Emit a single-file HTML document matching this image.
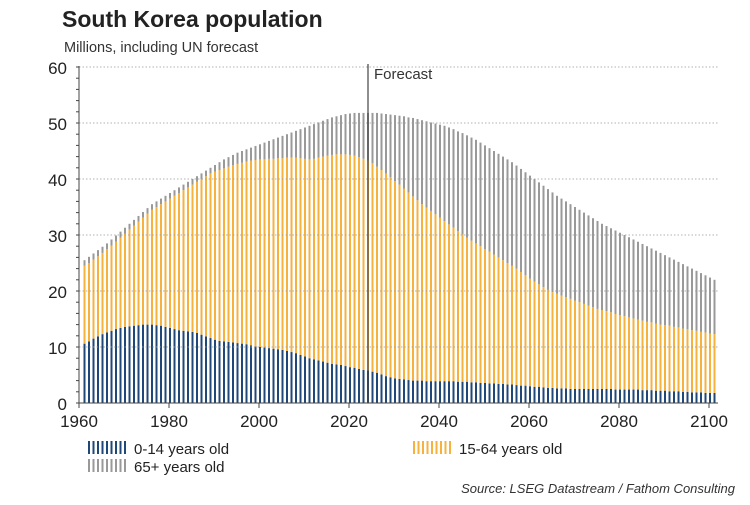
<!DOCTYPE html>
<html><head><meta charset="utf-8"><style>
body{margin:0;background:#fff;}
svg text{font-family:"Liberation Sans",Arial,sans-serif;}
</style></head><body>
<svg id="chart" width="750" height="500" viewBox="0 0 750 500" xmlns="http://www.w3.org/2000/svg">
<text x="62" y="27" font-size="23" font-weight="bold" fill="#222">South Korea population</text>
<text x="64" y="52" font-size="14.5" fill="#333">Millions, including UN forecast</text>
<g id="bars"></g><g id="grid"></g><g id="axes"></g>
<text x="735" y="493" font-size="13" font-style="italic" fill="#333" text-anchor="end">Source: LSEG Datastream / Fathom Consulting</text>
</svg>
<script>
const startYear = 1960;
const young = [10.6,11.0,11.5,11.9,12.3,12.6,12.9,13.2,13.4,13.6,13.7,13.8,13.9,14.0,14.0,14.0,13.9,13.8,13.6,13.4,13.2,13.0,12.9,12.8,12.7,12.5,12.2,11.9,11.6,11.3,11.1,11.0,10.9,10.8,10.7,10.6,10.5,10.3,10.1,10.0,9.9,9.8,9.7,9.6,9.5,9.3,9.1,8.9,8.6,8.3,8.0,7.8,7.6,7.4,7.2,7.0,6.9,6.8,6.6,6.4,6.3,6.1,5.9,5.8,5.6,5.4,5.1,4.8,4.6,4.4,4.3,4.2,4.1,4.0,4.0,4.0,3.9,3.9,3.9,3.9,3.9,3.9,3.9,3.8,3.8,3.8,3.7,3.7,3.6,3.6,3.5,3.5,3.4,3.4,3.3,3.3,3.2,3.1,3.1,3.0,2.9,2.9,2.8,2.7,2.7,2.6,2.6,2.6,2.5,2.5,2.5,2.5,2.5,2.5,2.5,2.5,2.5,2.5,2.4,2.4,2.4,2.4,2.4,2.4,2.3,2.3,2.3,2.2,2.2,2.2,2.1,2.1,2.1,2.0,2.0,1.9,1.9,1.9,1.8,1.8,1.8];
const working = [13.9,14.0,14.1,14.3,14.5,14.9,15.2,15.6,16.1,16.6,17.3,17.9,18.5,19.1,19.8,20.5,21.1,21.7,22.4,23.1,23.8,24.5,25.1,25.7,26.3,27.0,27.8,28.6,29.4,30.0,30.5,30.9,31.3,31.7,32.0,32.3,32.6,33.0,33.3,33.5,33.6,33.8,33.9,34.1,34.2,34.5,34.7,34.9,35.1,35.3,35.5,35.8,36.2,36.6,37.0,37.3,37.5,37.6,37.8,37.9,37.9,37.8,37.7,37.5,37.2,36.8,36.5,36.2,35.7,35.2,34.7,34.1,33.5,32.9,32.2,31.5,31.0,30.4,29.8,29.2,28.6,28.0,27.4,26.9,26.3,25.7,25.3,24.8,24.4,23.9,23.5,23.0,22.6,22.1,21.7,21.2,20.8,20.3,19.7,19.2,18.8,18.3,17.9,17.5,17.1,16.9,16.6,16.3,16.1,15.8,15.5,15.2,14.9,14.6,14.3,14.1,13.9,13.7,13.5,13.3,13.1,12.9,12.7,12.5,12.4,12.2,12.1,12.0,11.8,11.7,11.7,11.5,11.4,11.3,11.2,11.1,11.0,10.8,10.8,10.6,10.5];
const elderly = [1.0,1.1,1.1,1.1,1.1,1.0,1.1,1.1,1.1,1.1,1.0,1.0,1.0,1.0,1.0,1.0,1.0,1.0,1.0,1.0,1.0,1.0,1.0,1.0,1.0,1.0,1.0,1.0,1.0,1.2,1.4,1.6,1.7,1.8,2.0,2.1,2.2,2.3,2.5,2.7,3.0,3.2,3.5,3.7,4.0,4.2,4.5,4.8,5.2,5.6,6.0,6.2,6.3,6.4,6.5,6.7,6.8,7.0,7.2,7.4,7.6,7.9,8.2,8.5,9.0,9.6,10.1,10.6,11.2,11.8,12.3,12.9,13.4,14.0,14.5,15.0,15.4,15.8,16.2,16.6,17.0,17.3,17.6,17.8,18.1,18.3,18.4,18.5,18.5,18.5,18.5,18.5,18.5,18.5,18.5,18.5,18.4,18.4,18.4,18.4,18.3,18.2,18.1,18.0,17.8,17.5,17.3,17.1,16.9,16.7,16.5,16.3,16.1,15.9,15.7,15.4,15.2,15.0,14.9,14.7,14.5,14.3,14.1,13.9,13.7,13.5,13.2,13.0,12.8,12.5,12.2,12.0,11.7,11.5,11.2,11.0,10.7,10.5,10.2,10.0,9.7];
const yTicks = [0,10,20,30,40,50,60];
const xTicks = [1960,1980,2000,2020,2040,2060,2080,2100];
const forecastYear = 2023;

const NS="http://www.w3.org/2000/svg";
const X0=79, PX_YR=4.5, Y0=403, PX_U=5.6, BAR_OFF=5.5;
const x = yr => X0 + (yr-1960)*PX_YR;
const y = v => Y0 - v*PX_U;
function mk(tag, attrs, parent){const e=document.createElementNS(NS,tag);for(const k in attrs)e.setAttribute(k,attrs[k]);parent.appendChild(e);return e;}
const grid=document.getElementById('grid'), bars=document.getElementById('bars'), axes=document.getElementById('axes');

yTicks.forEach(t=>{
  if(t>0){const g=mk('line',{x1:X0,x2:718,y1:y(t),y2:y(t),stroke:'#999','stroke-width':0.8,'stroke-dasharray':'1.5,2'},grid);
  
  }
  const l=mk('text',{x:67,y:y(t)+7,'font-size':17,'text-anchor':'end',fill:'#222'},axes);
  l.textContent=t;
  
  
});
for(let v=0;v<=60;v+=2){mk('line',{x1:X0-3,x2:X0,y1:y(v),y2:y(v),stroke:'#444','stroke-width':1},axes);}

const cols=['#1f4878','#f6b23c','#999999'];
young.forEach((yv,i)=>{
  const yr=startYear+i, cx=x(yr)+BAR_OFF-1;
  const segs=[[0,yv],[yv,yv+working[i]],[yv+working[i],yv+working[i]+elderly[i]]];
  const names=['bar-young-','bar-working-','bar-elderly-'];
  segs.forEach((s,k)=>{
    const r=mk('rect',{x:cx,y:y(s[1]),width:2,height:y(s[0])-y(s[1]),fill:cols[k]},bars);
    
    
  });
});

const fx=x(forecastYear)+BAR_OFF;
const fl=mk('line',{x1:fx,x2:fx,y1:64,y2:Y0,stroke:'#444','stroke-width':1.2},axes);


const ft=mk('text',{x:fx+6,y:79,'font-size':15,fill:'#333'},axes);
ft.textContent='Forecast';



mk('line',{x1:X0,x2:X0,y1:66,y2:Y0,stroke:'#444','stroke-width':1},axes);
mk('line',{x1:X0,x2:718,y1:Y0,y2:Y0,stroke:'#444','stroke-width':1},axes);
xTicks.forEach(t=>{
  mk('line',{x1:x(t),x2:x(t),y1:Y0,y2:Y0+5,stroke:'#444','stroke-width':1},axes);
  const l=mk('text',{x:x(t),y:427,'font-size':17,'text-anchor':'middle',fill:'#222'},axes);
  l.textContent=t;
  
  
});

const legend=[['0-14 years old',88,454,cols[0]],['15-64 years old',413,454,cols[1]],['65+ years old',88,472,cols[2]]];
legend.forEach((L,k)=>{
  const g=mk('g',{},axes);
  
  
  for(let j=0;j<9;j++) mk('rect',{x:L[1]+j*4.5,y:L[2]-13,width:2,height:13,fill:L[3]},g);
  const t=mk('text',{x:L[1]+46,y:L[2],'font-size':15,fill:'#222'},g);
  t.textContent=L[0];
});
</script>
</body></html>
